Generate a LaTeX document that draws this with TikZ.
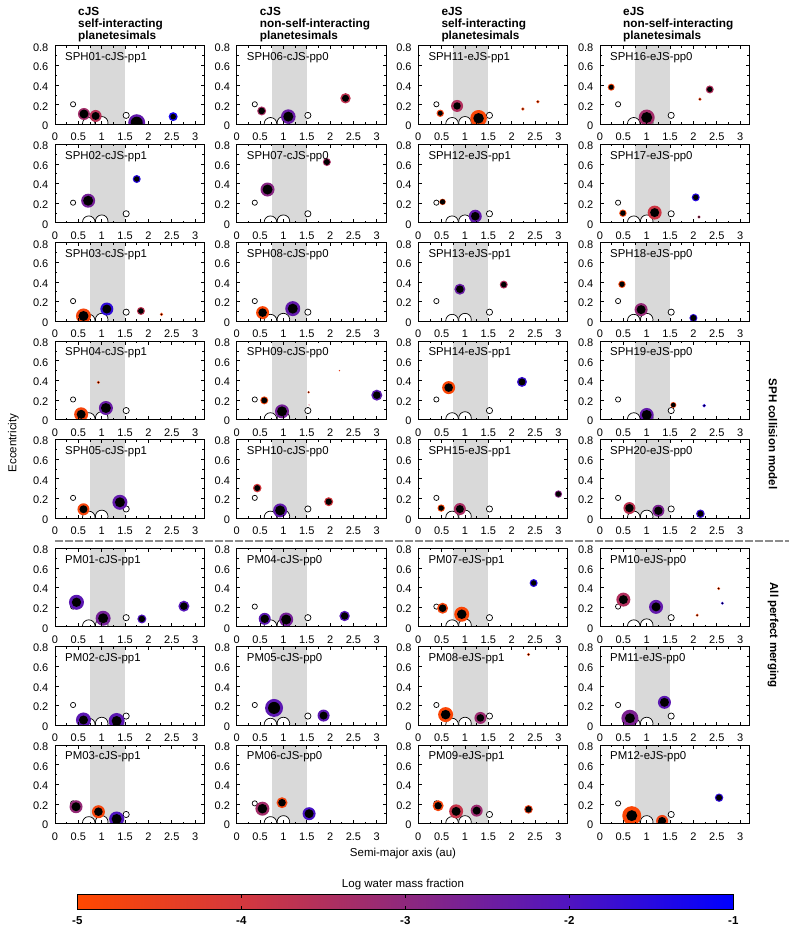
\documentclass[tikz,border=0pt]{standalone}
\usepackage{fontspec}
\setmainfont{Liberation Sans}
\definecolor{cb0}{RGB}{255,72,0}
\definecolor{cb1}{RGB}{212,56,62}
\definecolor{cb2}{RGB}{142,40,125}
\definecolor{cb3}{RGB}{80,20,192}
\definecolor{cb4}{RGB}{0,0,255}
\definecolor{hzc}{RGB}{217,217,217}
\definecolor{sepc}{RGB}{140,140,140}
\newcommand\wcol[1]{%
  \pgfmathsetmacro\wv{min(max(#1+5,0),3.999)}%
  \pgfmathtruncatemacro\wi{floor(\wv)}%
  \pgfmathsetmacro\wf{100*(\wv-\wi)}%
  \ifcase\wi\relax \colorlet{wc}{cb1!\wf!cb0}\or \colorlet{wc}{cb2!\wf!cb1}\or \colorlet{wc}{cb3!\wf!cb2}\or \colorlet{wc}{cb4!\wf!cb3}\fi}
\newcommand\pl[5]{\wcol{#5}\fill[wc] (#1,#2) circle[radius=#3pt];\fill[black] (#1,#2) circle[radius=#4pt];}
\tikzset{
  ticklbl/.style={font=\fontsize{11}{13}\selectfont, inner sep=0pt},
  ttl/.style={font=\fontsize{11.4}{13}\selectfont, inner sep=0pt},
  hdr/.style={font=\bfseries\fontsize{11.8}{13}\selectfont, inner sep=0pt, anchor=base west},
  lbl/.style={font=\fontsize{11.5}{13}\selectfont, inner sep=0pt},
  blbl/.style={font=\bfseries\fontsize{11.5}{13}\selectfont, inner sep=0pt},
  ss/.style={draw=black, fill=white, line width=0.7pt},
  frm/.style={draw=black, line width=1pt},
  tk/.style={draw=black, line width=0.8pt},
  sep/.style={draw=sepc, line width=2pt, dash pattern=on 8pt off 2pt},
}
\newcommand\mypanel[4]{%
\begin{scope}[shift={(#1pt,#2pt)},x=46.7pt,y=98.125pt]
  \begin{scope}
    \clip (0,0) rectangle (3.2,0.8);
    \fill[hzc] (0.75,0) rectangle (1.5,0.8);
    \draw[ss] (0.387,0.206) circle[radius=2.6pt];
    \draw[ss] (0.723,0.007) circle[radius=6.3pt];
    \draw[ss] (1,0.017) circle[radius=6.3pt];
    \draw[ss] (1.524,0.093) circle[radius=3.1pt];
    #4
  \end{scope}
  \foreach \t in {0.5,1.0,1.5,2.0,2.5,3.0} {\draw[tk] (\t,0) -- ++(0,3.5pt); \draw[tk] (\t,0.8) -- ++(0,-3.5pt);}
  \foreach \t in {0.25,0.75,1.25,1.75,2.25,2.75} {\draw[tk] (\t,0) -- ++(0,2pt); \draw[tk] (\t,0.8) -- ++(0,-2pt);}
  \foreach \t in {0.2,0.4,0.6} {\draw[tk] (0,\t) -- ++(3.5pt,0); \draw[tk] (3.2,\t) -- ++(-3.5pt,0);}
  \foreach \t in {0.1,0.3,0.5,0.7} {\draw[tk] (0,\t) -- ++(2pt,0); \draw[tk] (3.2,\t) -- ++(-2pt,0);}
  \draw[frm] (0,0) rectangle (3.2,0.8);
  \foreach \t in {0,0.2,0.4,0.6,0.8} \node[ticklbl,anchor=east,xshift=-6.5pt,yshift=-1.5pt] at (0,\t) {\t};
  \foreach \t in {0,0.5,1,1.5,2,2.5,3} \node[ticklbl,anchor=base,yshift=-16.5pt] at (\t,0) {\t};
  \node[ttl,anchor=base west,xshift=10pt,yshift=-14.8pt] (#3) at (0,0.8) {#3};
\end{scope}}
\begin{document}
\begin{tikzpicture}[x=1pt,y=1pt]
\useasboundingbox (0,0) rectangle (789,928);
\fill[white] (0,0) rectangle (789,928);
% headers
\node[hdr] (h1a) at (78,912.1) {cJS};
\node[hdr] (h1b) at (78,900.5) {self-interacting};
\node[hdr] (h1c) at (78,888.8) {planetesimals};
\node[hdr] (h2a) at (259.7,912.1) {cJS};
\node[hdr] (h2b) at (259.7,900.5) {non-self-interacting};
\node[hdr] (h2c) at (259.7,888.8) {planetesimals};
\node[hdr] (h3a) at (441.3,912.1) {eJS};
\node[hdr] (h3b) at (441.3,900.5) {self-interacting};
\node[hdr] (h3c) at (441.3,888.8) {planetesimals};
\node[hdr] (h4a) at (623,912.1) {eJS};
\node[hdr] (h4b) at (623,900.5) {non-self-interacting};
\node[hdr] (h4c) at (623,888.8) {planetesimals};
% row 1
\mypanel{55}{803.5}{SPH01-cJS-pp1}{\pl{0.62}{0.107}{6}{4.5}{-3.3}\pl{0.87}{0.087}{6}{4}{-3.6}\pl{1.75}{0.018}{8.5}{6}{-2.3}\pl{2.53}{0.08}{4.5}{2.8}{-1.3}}
\mypanel{236.7}{803.5}{SPH06-cJS-pp0}{\pl{0.535}{0.138}{4.5}{3.3}{-3.4}\pl{1.105}{0.08}{7.3}{5}{-2.4}\pl{2.33}{0.267}{5.2}{3.5}{-3.7}}
\mypanel{418.3}{803.5}{SPH11-eJS-pp1}{\pl{0.47}{0.114}{3.7}{2.5}{-4.7}\pl{0.83}{0.189}{6}{3.7}{-3.5}\pl{1.29}{0.063}{8.3}{5.3}{-4.9}\pl{2.24}{0.158}{1.7}{0.8}{-4.8}\pl{2.56}{0.232}{1.7}{0.8}{-4.8}}
\mypanel{600}{803.5}{SPH16-eJS-pp0}{\pl{0.24}{0.38}{3.5}{2.5}{-4.8}\pl{1.0}{0.071}{8}{5.5}{-3.3}\pl{2.14}{0.258}{1.7}{0.8}{-4.7}\pl{2.35}{0.357}{4}{2.7}{-3.5}}
% row 2
\mypanel{55}{705.1}{SPH02-cJS-pp1}{\pl{0.71}{0.226}{7}{5}{-2.6}\pl{1.75}{0.447}{4}{2.7}{-1.5}}
\mypanel{236.7}{705.1}{SPH07-cJS-pp0}{\pl{0.66}{0.34}{7}{5}{-2.9}\pl{1.93}{0.62}{4}{3}{-3.4}}
\mypanel{418.3}{705.1}{SPH12-eJS-pp1}{\pl{0.52}{0.214}{3.2}{2.7}{-4.8}\pl{1.22}{0.068}{6.5}{4.3}{-2.3}}
\mypanel{600}{705.1}{SPH17-eJS-pp0}{\pl{0.49}{0.099}{3.7}{2.7}{-4.8}\pl{1.17}{0.105}{7}{4.5}{-3.9}\pl{2.05}{0.26}{4}{2.7}{-1.5}\pl{2.12}{0.06}{1.7}{0.8}{-3.5}}
% row 3
\mypanel{55}{606.7}{SPH03-cJS-pp1}{\pl{0.61}{0.054}{7.5}{5}{-4.8}\pl{1.11}{0.125}{6.5}{4.5}{-1.6}\pl{1.84}{0.105}{4}{2.8}{-3.7}\pl{2.28}{0.071}{1.7}{0.8}{-4.8}}
\mypanel{236.7}{606.7}{SPH08-cJS-pp0}{\pl{0.555}{0.088}{6.5}{4.3}{-4.9}\pl{1.2}{0.129}{7.5}{5}{-2.3}}
\mypanel{418.3}{606.7}{SPH13-eJS-pp1}{\pl{0.89}{0.327}{5.5}{3.8}{-2.4}\pl{1.83}{0.374}{4}{2.8}{-3.5}}
\mypanel{600}{606.7}{SPH18-eJS-pp0}{\pl{0.47}{0.377}{3.7}{2.7}{-4.8}\pl{0.88}{0.119}{6.5}{4.5}{-3.1}\pl{2.0}{0.034}{4}{3}{-1.6}}
% row 4
\mypanel{55}{508.3}{SPH04-cJS-pp1}{\pl{0.56}{0.055}{7}{4.5}{-4.8}\pl{1.09}{0.119}{7}{5}{-2.4}\pl{0.93}{0.38}{1.6}{0.8}{-4.8}}
\mypanel{236.7}{508.3}{SPH09-cJS-pp0}{\pl{0.59}{0.197}{4}{3}{-4.8}\pl{0.97}{0.085}{7}{5}{-2.6}\pl{1.54}{0.28}{1.3}{0.6}{-4.7}\pl{1.55}{0.15}{0.6}{0}{-4.0}\pl{2.2}{0.50}{0.8}{0}{-4.5}\pl{3.0}{0.25}{5.5}{3.8}{-2.2}}
\mypanel{418.3}{508.3}{SPH14-eJS-pp1}{\pl{0.65}{0.327}{6.5}{4.3}{-4.9}\pl{2.22}{0.385}{5}{3.5}{-1.7}}
\mypanel{600}{508.3}{SPH19-eJS-pp0}{\pl{1.0}{0.048}{7}{5}{-2.3}\pl{1.57}{0.15}{3}{2.3}{-4.7}\pl{2.23}{0.143}{1.8}{0.8}{-1.5}}
% row 5
\mypanel{55}{409.9}{SPH05-cJS-pp1}{\pl{0.61}{0.09}{6}{4}{-4.8}\pl{1.39}{0.161}{7.5}{5}{-2.3}}
\mypanel{236.7}{409.9}{SPH10-cJS-pp0}{\pl{0.44}{0.306}{4.3}{3}{-4.0}\pl{0.93}{0.078}{7}{5}{-2.3}\pl{1.97}{0.167}{4.5}{3.2}{-4.0}}
\mypanel{418.3}{409.9}{SPH15-eJS-pp1}{\pl{0.49}{0.102}{3.7}{2.7}{-4.9}\pl{0.89}{0.092}{6}{4}{-3.4}\pl{3.0}{0.245}{3.7}{2.7}{-2.9}}
\mypanel{600}{409.9}{SPH20-eJS-pp0}{\pl{0.63}{0.102}{6}{4.2}{-3.7}\pl{1.25}{0.075}{6}{4.2}{-2.7}\pl{2.15}{0.044}{4.3}{3}{-1.7}}
% separator
\coordinate (sepL) at (55,387.3);
\coordinate (sepR) at (789,387.3);
\draw[sep] (sepL) -- (sepR);
% row 6
\mypanel{55}{301.2}{PM01-cJS-pp1}{\pl{0.46}{0.25}{7.5}{4.7}{-2.2}\pl{1.03}{0.087}{7.5}{5}{-2.6}\pl{1.86}{0.08}{4.5}{3.2}{-2.0}\pl{2.76}{0.21}{5.5}{3.8}{-2.1}}
\mypanel{236.7}{301.2}{PM04-cJS-pp0}{\pl{0.6}{0.081}{6}{4.2}{-2.2}\pl{1.06}{0.074}{7}{5}{-2.6}\pl{2.31}{0.11}{5.2}{3.7}{-2.1}}
\mypanel{418.3}{301.2}{PM07-eJS-pp1}{\pl{0.52}{0.189}{5.5}{3.8}{-4.8}\pl{0.93}{0.128}{7.5}{4.8}{-4.9}\pl{2.47}{0.446}{4}{2.7}{-1.5}}
\mypanel{600}{301.2}{PM10-eJS-pp0}{\pl{0.5}{0.277}{7}{4.5}{-3.5}\pl{1.2}{0.203}{7}{4.5}{-2.3}\pl{2.08}{0.118}{1.6}{0.8}{-4.8}\pl{2.54}{0.39}{1.6}{0.8}{-4.8}\pl{2.62}{0.24}{1.6}{0.8}{-1.5}}
% row 7
\mypanel{55}{202.8}{PM02-cJS-pp1}{\pl{0.61}{0.053}{7.5}{4.5}{-2.2}\pl{1.32}{0.043}{8}{5}{-2.2}}
\mypanel{236.7}{202.8}{PM05-cJS-pp0}{\pl{0.8}{0.176}{9}{6}{-2.2}\pl{1.86}{0.098}{6}{4}{-2.2}}
\mypanel{418.3}{202.8}{PM08-eJS-pp1}{\pl{0.585}{0.108}{7.5}{4.8}{-4.9}\pl{1.33}{0.074}{6}{3.8}{-3.2}\pl{2.36}{0.72}{1.6}{0.8}{-4.8}}
\mypanel{600}{202.8}{PM11-eJS-pp0}{\pl{0.64}{0.071}{8.5}{5}{-2.7}\pl{1.38}{0.233}{6.5}{4.5}{-2.2}}
% row 8
\mypanel{55}{104.4}{PM03-cJS-pp1}{\pl{0.45}{0.172}{6.5}{4.5}{-3.1}\pl{0.93}{0.121}{6.5}{4.3}{-4.8}\pl{1.32}{0.047}{7.5}{5}{-2.0}}
\mypanel{236.7}{104.4}{PM06-cJS-pp0}{\pl{0.55}{0.152}{7}{4.8}{-3.3}\pl{0.97}{0.213}{5.5}{3.8}{-4.8}\pl{1.55}{0.101}{6.5}{4.5}{-1.9}}
\mypanel{418.3}{104.4}{PM09-eJS-pp1}{\pl{0.425}{0.182}{5.5}{3.7}{-4.8}\pl{0.81}{0.125}{7}{4.5}{-3.8}\pl{1.25}{0.132}{6}{4}{-3.2}\pl{2.36}{0.145}{4.3}{3.2}{-4.6}}
\mypanel{600}{104.4}{PM12-eJS-pp0}{\pl{0.68}{0.081}{9.5}{5.5}{-4.9}\pl{1.33}{0.027}{6}{4}{-4.7}\pl{2.55}{0.264}{4.2}{3}{-1.6}}
% axis labels
\node[lbl,rotate=90] (ecc) at (13.3,485) {Eccentricity};
\node[lbl] (sma) at (403,74) {Semi-major axis (au)};
\node[blbl,rotate=-90] (sphlab) at (773,494) {SPH collision model};
\node[blbl,rotate=-90] (pmlab) at (773,293) {All perfect merging};
% colour bar
\node[lbl] (cbt) at (403,43) {Log water mass fraction};
\shade[left color=cb0,right color=cb1] (77.3,18.7) rectangle (241.5,33);
\shade[left color=cb1,right color=cb2] (241.3,18.7) rectangle (405.5,33);
\shade[left color=cb2,right color=cb3] (405.3,18.7) rectangle (569.5,33);
\shade[left color=cb3,right color=cb4] (569.3,18.7) rectangle (733.3,33);
\draw[frm] (77.3,18.7) rectangle (733.3,33);
\foreach \x in {241.3,405.3,569.3} {\draw[tk] (\x,18.7) -- ++(0,3); \draw[tk] (\x,33) -- ++(0,-3);}
\node[blbl,anchor=base] (cb5) at (77.3,4) {-5};
\node[blbl,anchor=base] (cb4l) at (241.3,4) {-4};
\node[blbl,anchor=base] (cb3l) at (405.3,4) {-3};
\node[blbl,anchor=base] (cb2l) at (569.3,4) {-2};
\node[blbl,anchor=base] (cb1l) at (733.3,4) {-1};
\end{tikzpicture}
\end{document}
